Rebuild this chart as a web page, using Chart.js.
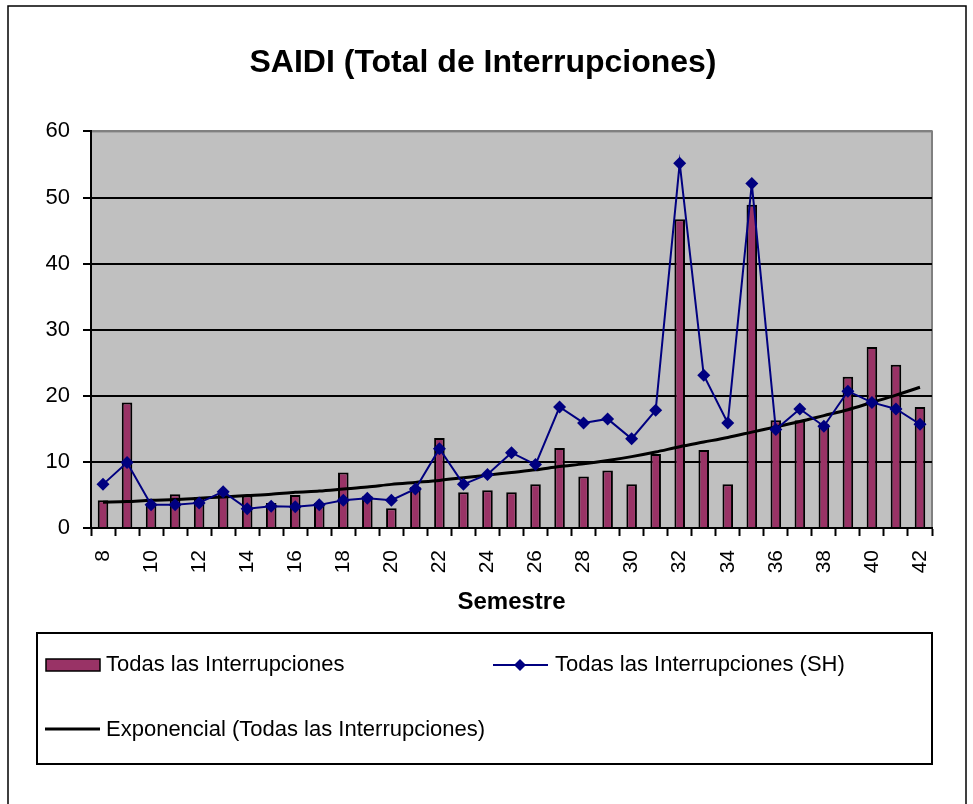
<!DOCTYPE html>
<html>
<head>
<meta charset="utf-8">
<script src="https://cdn.jsdelivr.net/npm/chart.js@4/dist/chart.umd.min.js"></script>
<style>
  html, body { margin: 0; padding: 0; background: #fff; }
  #wrap { width: 973px; height: 804px; position: relative; }
</style>
</head>
<body>
<div id="wrap"><canvas id="chart"></canvas></div>
<script>
const semestres = ['8','9','10','11','12','13','14','15','16','17','18','19','20','21','22','23','24','25',
  '26','27','28','29','30','31','32','33','34','35','36','37','38','39','40','41','42'];

const todasInterrupciones = [4.2, 19.0, 3.7, 5.1, 4.7, 5.5, 4.9, 3.8, 5.0, 3.8, 8.4, 4.8, 3.0, 6.2, 13.6, 5.4, 5.7, 5.4,
  6.6, 12.1, 7.8, 8.7, 6.6, 11.2, 46.7, 11.8, 6.6, 48.9, 16.3, 16.3, 15.7, 22.9, 27.4, 24.7, 18.3];

const todasSH = [6.6, 9.9, 3.5, 3.5, 3.8, 5.5, 2.9, 3.3, 3.2, 3.5, 4.2, 4.5, 4.2, 5.9, 12.0, 6.6, 8.1, 11.4,
  9.6, 18.3, 15.9, 16.5, 13.5, 17.8, 55.2, 23.1, 15.9, 52.1, 14.9, 18.0, 15.4, 20.7, 19.0, 18.0, 15.7];

const tendenciaExp = [3.9, 4.0, 4.2, 4.3, 4.5, 4.7, 4.9, 5.1, 5.4, 5.6, 5.9, 6.2, 6.6, 6.9, 7.2, 7.6, 8.0, 8.4,
  8.8, 9.3, 9.7, 10.2, 10.8, 11.5, 12.3, 13.0, 13.7, 14.5, 15.3, 16.1, 17.0, 17.9, 19.0, 20.1, 21.3];

const yTicks = [0, 10, 20, 30, 40, 50, 60];

const FONT = 'Liberation Sans, Arial, sans-serif';
const BAR_COLOR = '#993366';
const LINE_COLOR = '#000080';

// gray plot area + outer frame
const plotBackground = {
  id: 'plotBackground',
  beforeDraw(c) {
    const { ctx, chartArea: a } = c;
    ctx.save();
    ctx.fillStyle = '#fff';
    ctx.fillRect(0, 0, c.width, c.height);
    ctx.strokeStyle = '#000';
    ctx.lineWidth = 1.5;
    ctx.strokeRect(8, 6, 958, 820);
    ctx.fillStyle = '#c0c0c0';
    ctx.fillRect(a.left, a.top, a.right - a.left, a.bottom - a.top);
    ctx.strokeStyle = '#808080';
    ctx.lineWidth = 2;
    ctx.strokeRect(a.left, a.top, a.right - a.left, a.bottom - a.top);
    ctx.restore();
  }
};

// boxed legend under the axis title, like the spreadsheet one
const boxLegend = {
  id: 'boxLegend',
  afterDraw(c) {
    const ctx = c.ctx;
    const ds = c.data.datasets;
    ctx.save();
    ctx.strokeStyle = '#000';
    ctx.lineWidth = 2;
    ctx.strokeRect(37, 633, 895, 131);

    ctx.font = '22px ' + FONT;
    ctx.textBaseline = 'middle';

    // bars
    ctx.fillStyle = BAR_COLOR;
    ctx.fillRect(46, 659, 54, 12);
    ctx.lineWidth = 1.5;
    ctx.strokeRect(46, 659, 54, 12);
    ctx.fillStyle = '#000';
    ctx.fillText(ds[0].label, 106, 665);

    // line with diamonds
    ctx.strokeStyle = LINE_COLOR;
    ctx.lineWidth = 2;
    ctx.beginPath();
    ctx.moveTo(493, 665);
    ctx.lineTo(548, 665);
    ctx.stroke();
    ctx.fillStyle = LINE_COLOR;
    ctx.beginPath();
    ctx.moveTo(520, 659); ctx.lineTo(526, 665); ctx.lineTo(520, 671); ctx.lineTo(514, 665);
    ctx.closePath();
    ctx.fill();
    ctx.fillStyle = '#000';
    ctx.fillText(ds[1].label, 555, 665);

    // trend
    ctx.strokeStyle = '#000';
    ctx.lineWidth = 3;
    ctx.beginPath();
    ctx.moveTo(45, 729);
    ctx.lineTo(100, 729);
    ctx.stroke();
    ctx.fillText(ds[2].label, 106, 730);
    ctx.restore();
  }
};

const ctx = document.getElementById('chart').getContext('2d');
const chart = new Chart(ctx, {
  data: {
    labels: semestres,
    datasets: [
      {
        type: 'bar',
        label: 'Todas las Interrupciones',
        data: todasInterrupciones,
        backgroundColor: BAR_COLOR,
        borderColor: '#000',
        borderWidth: 2,
        barPercentage: 0.44,
        categoryPercentage: 1,
        order: 3
      },
      {
        type: 'line',
        label: 'Todas las Interrupciones (SH)',
        data: todasSH,
        borderColor: LINE_COLOR,
        backgroundColor: LINE_COLOR,
        borderWidth: 2,
        pointStyle: 'rectRot',
        pointRadius: 6.5,
        pointBorderWidth: 0,
        tension: 0,
        order: 1
      },
      {
        type: 'line',
        label: 'Exponencial (Todas las Interrupciones)',
        data: tendenciaExp,
        borderColor: '#000',
        borderWidth: 3,
        pointRadius: 0,
        tension: 0.3,
        order: 2
      }
    ]
  },
  options: {
    responsive: true,
    maintainAspectRatio: false,
    animation: false,
    layout: { padding: { left: 34, right: 41, top: 0, bottom: 187 } },
    scales: {
      x: {
        offset: true,
        grid: {
          offset: true,
          drawOnChartArea: false,
          drawTicks: true,
          tickLength: 8,
          tickColor: '#000',
          tickWidth: 2
        },
        border: { color: '#000', width: 2 },
        ticks: {
          autoSkip: false,
          minRotation: 90,
          maxRotation: 90,
          padding: 14,
          color: '#000',
          font: { family: FONT, size: 21 },
          callback: (v, i) => (i % 2 === 0 ? semestres[i] : '')
        },
        title: {
          display: true,
          text: 'Semestre',
          color: '#000',
          font: { family: FONT, size: 24, weight: 'bold' },
          padding: { top: 0, bottom: 0 }
        },
        afterFit: (s) => { s.height = 89; }
      },
      y: {
        min: yTicks[0],
        max: yTicks[yTicks.length - 1],
        afterBuildTicks: (s) => { s.ticks = yTicks.map(v => ({ value: v })); },
        grid: {
          color: (c) => (c.tick && c.tick.value === 60 ? '#808080' : '#000'),
          lineWidth: 2,
          tickLength: 8,
          tickColor: '#000',
          tickWidth: 2
        },
        border: { color: '#000', width: 2 },
        ticks: {
          padding: 13,
          color: '#000',
          font: { family: FONT, size: 22 }
        },
        afterFit: (s) => { s.width = 57; }
      }
    },
    plugins: {
      legend: { display: false },
      tooltip: { enabled: false },
      title: {
        display: true,
        text: 'SAIDI (Total de Interrupciones)',
        color: '#000',
        font: { family: FONT, size: 32, weight: 'bold' },
        padding: { top: 44, bottom: 49 }
      }
    }
  },
  plugins: [plotBackground, boxLegend]
});
</script>
</body>
</html>
